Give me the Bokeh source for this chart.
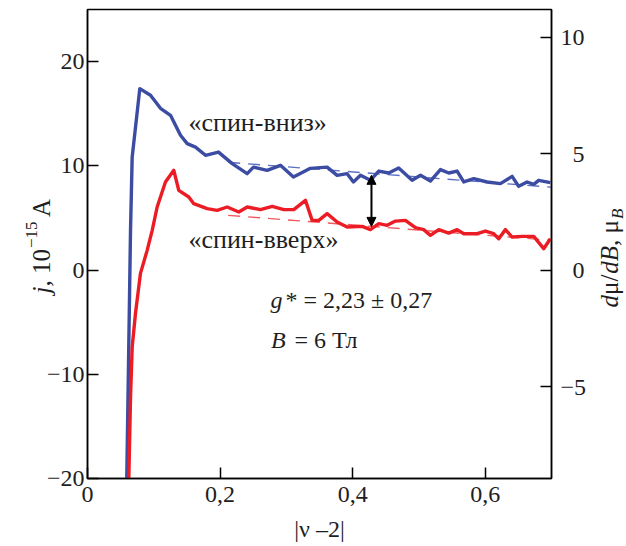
import math
from bokeh.plotting import figure
from bokeh.models import Range1d, LinearAxis, FixedTicker, Label, Arrow, NormalHead, GridBox
from bokeh.embed import file_html
from bokeh.resources import INLINE

# ---------------- data ----------------
x_spin_down = [0.059, 0.0649, 0.0674, 0.0789, 0.0950, 0.1101, 0.1252, 0.1403, 0.1504, 0.1629,
               0.1780, 0.1976, 0.2183, 0.2409, 0.2504, 0.2710, 0.2911, 0.3107, 0.3363, 0.3615,
               0.3766, 0.3917, 0.4012, 0.4118, 0.4268, 0.4394, 0.4544, 0.4695, 0.4897, 0.5023,
               0.5173, 0.5324, 0.5450, 0.5576, 0.5676, 0.5827, 0.6029, 0.6229, 0.6406, 0.6505,
               0.6632, 0.6732, 0.6807, 0.6983]
j_spin_down = [-21.0, 3.81, 10.84, 17.41, 16.77, 15.52, 14.85, 12.93, 12.13, 11.80,
               11.01, 11.32, 10.21, 9.25, 9.88, 9.57, 10.05, 8.93, 9.76, 9.88,
               9.09, 9.25, 8.45, 9.09, 8.61, 9.50, 9.31, 9.79, 8.61, 9.09,
               8.54, 9.64, 9.31, 9.50, 8.45, 8.77, 8.45, 8.29, 8.99, 8.03,
               8.45, 8.22, 8.61, 8.39]

x_spin_up = [0.062, 0.0649, 0.0674, 0.0724, 0.0799, 0.0900, 0.0976, 0.1051, 0.1176, 0.1302,
             0.1377, 0.1528, 0.1603, 0.1805, 0.1956, 0.2107, 0.2282, 0.2409, 0.2609, 0.2786,
             0.2961, 0.3112, 0.3288, 0.3389, 0.3489, 0.3615, 0.3766, 0.3917, 0.4143, 0.4268,
             0.4394, 0.4520, 0.4646, 0.4796, 0.4947, 0.5072, 0.5173, 0.5299, 0.5450, 0.5576,
             0.5676, 0.5878, 0.6003, 0.6128, 0.6204, 0.6305, 0.6406, 0.6557, 0.6732, 0.6882,
             0.6983]
j_spin_up = [-21.0, -12.19, -7.39, -4.16, -0.32, 1.89, 3.81, 6.05, 8.45, 9.57,
             7.65, 7.01, 6.37, 5.89, 5.73, 6.05, 5.57, 6.05, 5.80, 6.11,
             5.80, 5.80, 6.69, 4.77, 4.77, 5.41, 4.61, 4.13, 4.19, 3.88,
             4.45, 4.29, 4.70, 4.77, 4.07, 3.88, 3.33, 3.88, 3.55, 3.88,
             3.49, 3.49, 3.74, 3.49, 3.01, 3.88, 3.17, 3.23, 3.23, 2.05,
             3.01]

fit_x = [0.2122, 0.7014]
fit_down = [10.34, 7.94]
fit_up = [5.25, 2.85]

gap_x = 0.4284
gap_j = [4.19, 9.09]

x_ticks = [0, 0.2, 0.4, 0.6]
x_tick_labels = ["0", "0,2", "0,4", "0,6"]
j_ticks = [-20, -10, 0, 10, 20]
j_tick_labels = ["\u221220", "\u221210", "0", "10", "20"]
mu_ticks = [-5, 0, 5, 10]
mu_tick_labels = ["\u22125", "\u20070", "\u20075", "10"]

x_title = "|ν \u20132|"
label_down = "«спин-вниз»"
label_up = "«спин-вверх»"
g_value = "* = 2,23 ± 0,27"
b_value = "= 6 Тл"

# ---------------- layout (page pixels) ----------------
W, H = 626, 546
FX0, FX1, FY0, FY1 = 87, 551, 9, 478   # plot frame on the page
X0, X1, Y0, Y1 = 0.0, 0.7, -20.0, 25.0
MU0, MU1 = -8.93, 11.2
DROP = 0.35                            # baseline correction, in em

BLUE = "#3b4ca2"
RED = "#ec1c24"
INK = "#1e1e1e"
FONT = "Liberation Serif"


def pos(px, py):
    return (X0 + (px - FX0) * (X1 - X0) / (FX1 - FX0),
            Y0 + (FY1 - py) * (Y1 - Y0) / (FY1 - FY0))


p = figure(width=W, height=H, x_range=Range1d(X0, X1), y_range=Range1d(Y0, Y1),
           output_backend="svg", toolbar_location=None,
           min_border_left=FX0, min_border_right=W - FX1,
           min_border_top=FY0, min_border_bottom=H - FY1)
p.title.visible = False
p.xgrid.visible = False
p.ygrid.visible = False
p.outline_line_color = "black"
p.outline_line_width = 1.5
p.background_fill_color = "white"
p.border_fill_color = "white"

p.extra_y_ranges = {"mu": Range1d(MU0, MU1)}
rax = LinearAxis(y_range_name="mu")
p.add_layout(rax, "right")


def style_axis(ax, ticks, labels, standoff):
    ax.ticker = FixedTicker(ticks=ticks)
    ax.major_label_overrides = {t: l for t, l in zip(ticks, labels)}
    ax.major_tick_in = 11
    ax.major_tick_out = 0
    ax.minor_tick_in = 0
    ax.minor_tick_out = 0
    ax.axis_line_width = 1.5
    ax.major_tick_line_width = 1.5
    ax.axis_line_color = "black"
    ax.major_tick_line_color = "black"
    ax.major_label_text_font = FONT
    ax.major_label_text_font_size = "24px"
    ax.major_label_text_color = INK
    ax.major_label_standoff = standoff


style_axis(p.xaxis[0], x_ticks, x_tick_labels, 8)
style_axis(p.yaxis[0], j_ticks, j_tick_labels, 3)
style_axis(rax, mu_ticks, mu_tick_labels, 9)

# ---------------- data marks ----------------
p.line(fit_x, fit_down, line_color="#5d6fc4", line_width=1.4, line_dash="12 8")
p.line(fit_x, fit_up, line_color="#f05a5f", line_width=1.4, line_dash="12 8")
p.line(x_spin_down, j_spin_down, line_color=BLUE, line_width=3.4, line_join="round")
p.line(x_spin_up, j_spin_up, line_color=RED, line_width=3.4, line_join="round")

p.add_layout(Arrow(start=NormalHead(size=9, fill_color="black", line_color="black"),
                   end=NormalHead(size=9, fill_color="black", line_color="black"),
                   x_start=gap_x, y_start=gap_j[0], x_end=gap_x, y_end=gap_j[1],
                   line_width=2, line_color="black"))


def make_label(x, y, t, size, italic, angle, align="left"):
    return Label(x=x, y=y, text=t, text_font=FONT, text_font_size=f"{size}px",
                 text_font_style="italic" if italic else "normal",
                 text_color=INK, text_align=align, text_baseline="alphabetic",
                 angle=angle)


def text(px, py, t, size=24, italic=False):
    x, y = pos(px, py - DROP * size)
    p.add_layout(make_label(x, y, t, size, italic, 0.0))


# curve labels and parameters (page-pixel baselines)
text(188, 131, label_down, 26)
text(188, 248, label_up, 26)
text(270, 308, "g", italic=True)
text(285, 308, g_value)
text(270.5, 348, "B", italic=True)
text(294, 348, b_value)

# ---------------- transparent overlay for the axis titles ----------------
ov = figure(width=W, height=H, x_range=Range1d(0, W), y_range=Range1d(H, 0),
            x_axis_type=None, y_axis_type=None, output_backend="svg",
            toolbar_location=None, min_border=0,
            min_border_left=0, min_border_right=0, min_border_top=0, min_border_bottom=0)
ov.title.visible = False
ov.outline_line_color = None
ov.background_fill_alpha = 0
ov.border_fill_alpha = 0
for fig in (p, ov):
    if "frame_align" in fig.properties():
        fig.frame_align = False

up = math.pi / 2
AS = 25


def vtext(px, py, t, size, italic):
    ov.add_layout(make_label(px - DROP * size, py, t, size, italic, up))


# left axis title: j, 10^-15 A  (rotated, reading upwards)
vtext(50, 293, "j,", AS, True)
vtext(50, 273.5, "10", AS, False)
vtext(37, 247.5, "\u221215", 17, False)
vtext(50, 216.5, "A", AS, False)

# right axis title: dmu/dB, mu_B
vtext(618, 307, "d", AS, True)
vtext(618, 294.5, "μ/", AS, False)
vtext(618, 273.2, "dB", AS, True)
vtext(618, 245.4, ", μ", AS, False)
vtext(623, 218.5, "B", 17, True)

# x axis title
ov.add_layout(make_label((FX0 + FX1) / 2, 537 - DROP * 24, x_title, 24, False, 0.0, "center"))

layout = GridBox(children=[(p, 0, 0), (ov, 0, 0)])
open("out.html", "w").write(file_html(layout, INLINE))
